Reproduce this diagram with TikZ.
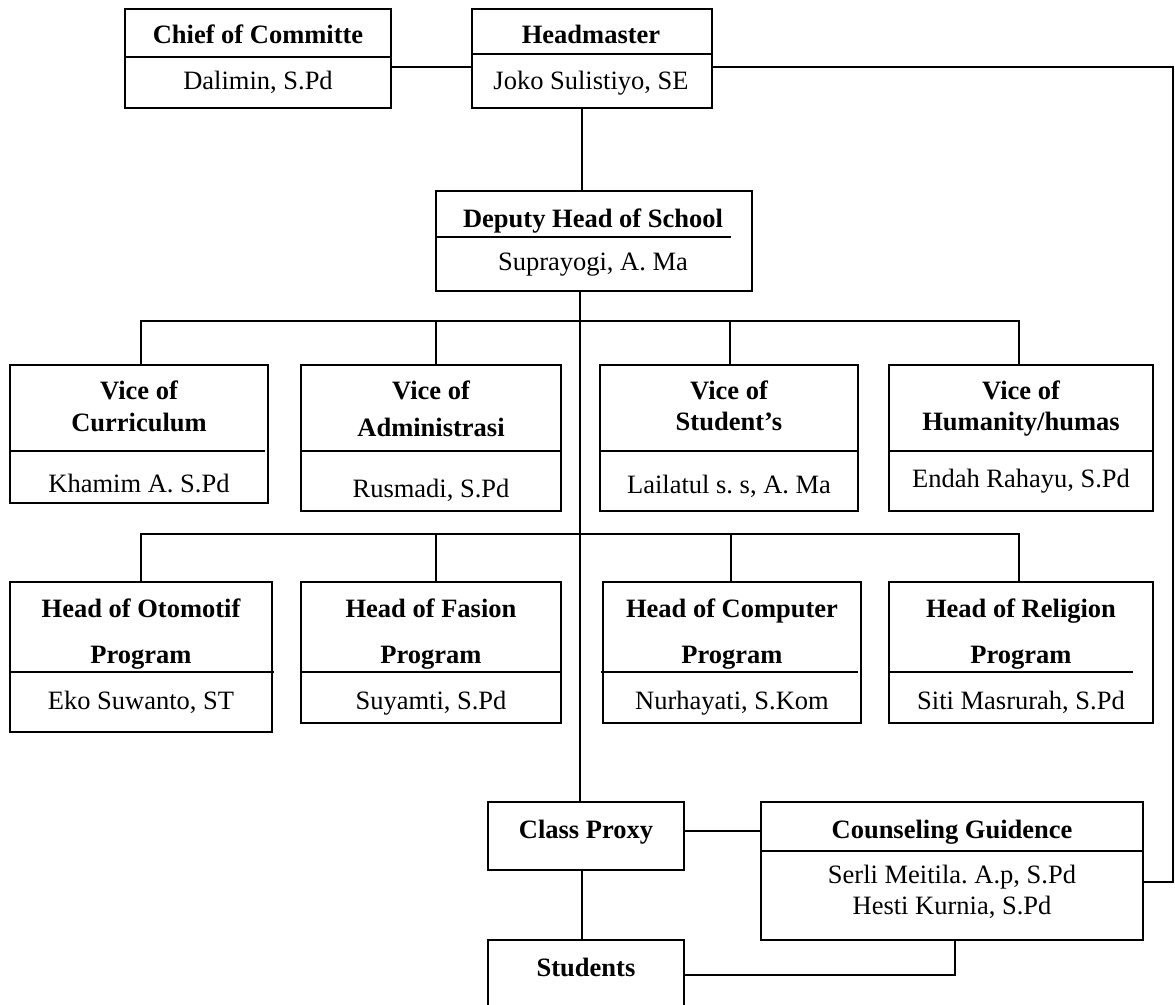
\documentclass[tikz,border=0pt]{standalone}
\usepackage{fontspec}
\setmainfont{Liberation Serif}
\frenchspacing
\tikzset{
  box/.style={draw=black, line width=1.7pt, rectangle, inner sep=0pt, outer sep=0pt},
  ttl/.style={font=\fontsize{26.5}{30}\selectfont\bfseries\frenchspacing, inner sep=0pt, anchor=base},
  nm/.style={font=\fontsize{26.5}{30}\selectfont\frenchspacing, inner sep=0pt, anchor=base},
  conn/.style={draw=black, line width=1.7pt},
  divl/.style={draw=black, line width=1.7pt}
}
\newcommand\obox[5]{\node[box, minimum width={#4-#2}, minimum height={#5-#3}] (#1) at ({(#2+#4)/2},{(#3+#5)/2}) {};}
\begin{document}
\begin{tikzpicture}[x=1pt,y=-1pt]
\useasboundingbox (0,0) rectangle (1175,1004);
\clip (0,0) rectangle (1175,1004);
% ---- top row
\obox{chief}{125}{9}{391}{108}
\draw[divl] (125,57) -- (391,57);
\node[ttl] (chiefT) at (258,43) {Chief of Committe};
\node[nm] (chiefN) at (258,89) {Dalimin, S.Pd};

\obox{hm}{472}{9}{712}{108}
\draw[divl] (472,54) -- (712,54);
\node[ttl] (hmT) at (591,43) {Headmaster};
\node[nm] (hmN) at (591,89) {Joko Sulistiyo, SE};

% ---- deputy
\obox{dep}{436}{191}{752}{291}
\draw[divl] (436,237) -- (731,237);
\node[ttl] (depT) at (593,227) {Deputy Head of School};
\node[nm] (depN) at (593,270) {Suprayogi, A. Ma};

% ---- vice row
\obox{vc}{10}{365}{268}{503}
\draw[divl] (10,451) -- (265,451);
\node[ttl] (vcT1) at (139,399) {Vice of};
\node[ttl] (vcT2) at (139,431) {Curriculum};
\node[nm] (vcN) at (139,492) {Khamim A. S.Pd};

\obox{va}{301}{365}{561}{511}
\draw[divl] (301,451) -- (561,451);
\node[ttl] (vaT1) at (431,399) {Vice of};
\node[ttl] (vaT2) at (431,436) {Administrasi};
\node[nm] (vaN) at (431,497) {Rusmadi, S.Pd};

\obox{vs}{600}{365}{858}{511}
\draw[divl] (600,451) -- (858,451);
\node[ttl] (vsT1) at (729,399) {Vice of};
\node[ttl] (vsT2) at (729,430) {Student’s};
\node[nm] (vsN) at (729,493) {Lailatul s. s, A. Ma};

\obox{vh}{889}{365}{1153}{511}
\draw[divl] (889,451) -- (1153,451);
\node[ttl] (vhT1) at (1021,399) {Vice of};
\node[ttl] (vhT2) at (1021,430) {Humanity/humas};
\node[nm] (vhN) at (1021,487) {Endah Rahayu, S.Pd};

% ---- head row
\obox{ho}{10}{582}{272}{732}
\draw[divl] (10,672) -- (274,672);
\node[ttl] (hoT1) at (141,617) {Head of Otomotif};
\node[ttl] (hoT2) at (141,663) {Program};
\node[nm] (hoN) at (141,709) {Eko Suwanto, ST};

\obox{hf}{301}{582}{561}{723}
\draw[divl] (301,672) -- (561,672);
\node[ttl] (hfT1) at (431,617) {Head of Fasion};
\node[ttl] (hfT2) at (431,663) {Program};
\node[nm] (hfN) at (431,709) {Suyamti, S.Pd};

\obox{hc}{603}{582}{861}{723}
\draw[divl] (601,672) -- (858,672);
\node[ttl] (hcT1) at (732,617) {Head of Computer};
\node[ttl] (hcT2) at (732,663) {Program};
\node[nm] (hcN) at (732,709) {Nurhayati, S.Kom};

\obox{hr}{889}{582}{1153}{723}
\draw[divl] (889,672) -- (1133,672);
\node[ttl] (hrT1) at (1021,617) {Head of Religion};
\node[ttl] (hrT2) at (1021,663) {Program};
\node[nm] (hrN) at (1021,709) {Siti Masrurah, S.Pd};

% ---- bottom
\obox{cp}{488}{802}{684}{870}
\node[ttl] (cpT) at (586,838) {Class Proxy};

\obox{cg}{761}{802}{1143}{940}
\draw[divl] (761,851) -- (1143,851);
\node[ttl] (cgT) at (952,838) {Counseling Guidence};
\node[nm] (cgN1) at (952,883) {Serli Meitila. A.p, S.Pd};
\node[nm] (cgN2) at (952,914) {Hesti Kurnia, S.Pd};

\obox{st}{488}{940}{684}{1020}
\node[ttl] (stT) at (586,976) {Students};

% ---- connectors
\coordinate (rt) at (1173,500);
\draw[conn] (chief.east |- 0,67) -- (hm.west |- 0,67);
\draw[conn] (hm.east |- 0,67) -| (rt) |- (cg.east |- 0,882);
\draw[conn] (hm.south -| 582,0) -- (dep.north -| 582,0);
\draw[conn] (dep.south -| 580,0) -- (cp.north -| 580,0);
% vice bus
\draw[conn] (vc.north -| 141,0) -- ++(0,-44) -| (vh.north -| 1019,0);
\draw[conn] (va.north -| 436,0) -- ++(0,-44);
\draw[conn] (vs.north -| 730,0) -- ++(0,-44);
% head bus
\draw[conn] (ho.north -| 141,0) -- ++(0,-48) -| (hr.north -| 1019,0);
\draw[conn] (hf.north -| 436,0) -- ++(0,-48);
\draw[conn] (hc.north -| 731,0) -- ++(0,-48);
% bottom
\draw[conn] (cp.east |- 0,831) -- (cg.west |- 0,831);
\draw[conn] (cp.south -| 582,0) -- (st.north -| 582,0);
\draw[conn] (cg.south -| 955,0) |- (st.east |- 0,975);
\end{tikzpicture}
\end{document}
